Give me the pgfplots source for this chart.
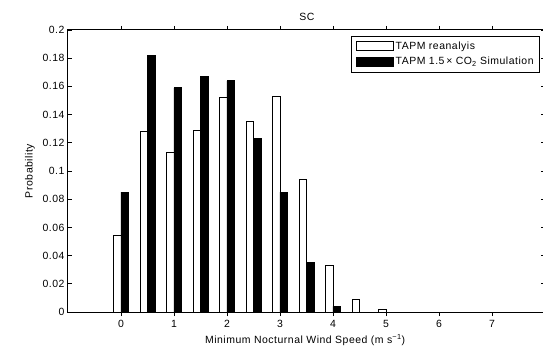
\documentclass[border=0pt]{standalone}
\usepackage{fontspec}
\setmainfont{Liberation Sans}[LetterSpace=5]
\usepackage{pgfplots}
\pgfplotsset{compat=1.18}
\usetikzlibrary{calc}

\pgfplotsset{
  boxlegend/.style={legend image code/.code={%
    \draw[##1, line width=0.8bp] (0bp,-4.5bp) rectangle (37bp,4.5bp);}},
}

\begin{document}
\begin{tikzpicture}[font=\fontsize{10.5}{12}\selectfont]
\begin{axis}[
  scale only axis, width=477bp, height=282bp,
  xmin=-1, xmax=8, ymin=0, ymax=0.2,
  xtick={0,1,2,3,4,5,6,7},
  ytick={0,0.02,0.04,0.06,0.08,0.1,0.12,0.14,0.16,0.18,0.2},
  tick align=inside, major tick length=4bp,
  every tick/.style={black, line width=0.8bp},
  axis line style={line width=1bp},
  /pgf/number format/.cd, fixed, precision=2, assume math mode=true,
  /pgfplots/.cd,
  title={SC},
  every axis title/.style={at={(axis description cs:0.501,1.046)}, anchor=center},
  xlabel={Minimum Nocturnal Wind Speed (m s\textsuperscript{−1})},
  every axis x label/.style={at={(axis description cs:0.497,-0.1)}, anchor=center},
  ylabel={Probability},
  every axis y label/.style={at={(axis description cs:-0.08,0.5)}, rotate=90, anchor=center},
  xticklabel style={yshift=-1bp},
  ybar, bar width=0.14,
  legend cell align=left,
  legend style={at={(axis description cs:0.9895,0.979)}, anchor=north east,
    draw=black, line width=0.8bp, inner xsep=4bp, inner ysep=3bp, row sep=1.5bp,
    font=\fontsize{10.5}{12}\selectfont,
    nodes={inner ysep=2.5bp}},
]
\coordinate (o) at (rel axis cs:0,0);
% probability per 0.5 m/s bin
\addplot[draw=black, fill=white, line width=0.8bp, bar shift=-0.07, boxlegend]
  coordinates {(0,0.054) (0.5,0.128) (1,0.113) (1.5,0.129) (2,0.152) (2.5,0.135)
               (3,0.153) (3.5,0.094) (4,0.033) (4.5,0.009) (5,0.002)};
\addlegendentry{TAPM reanalyis}
\addplot[draw=black, fill=black, line width=0.8bp, bar shift=0.07, boxlegend]
  coordinates {(0,0.085) (0.5,0.182) (1,0.159) (1.5,0.167) (2,0.164) (2.5,0.123)
               (3,0.085) (3.5,0.035) (4,0.004)};
\addlegendentry{TAPM 1.5\,× CO\textsubscript{2} Simulation}
\end{axis}
\pgfresetboundingbox
\path ($(o)+(-68bp,-38bp)$) rectangle ($(o)+(475bp,312bp)$);
\end{tikzpicture}
\end{document}
